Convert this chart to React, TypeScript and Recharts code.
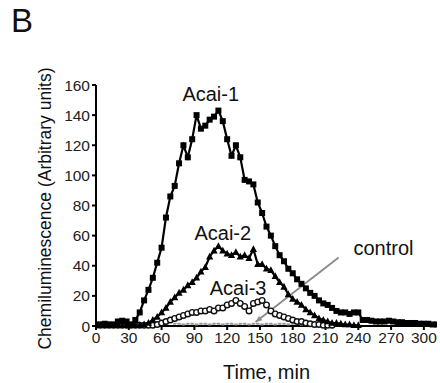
import React from "react";
import {
  LineChart,
  Line,
  XAxis,
  YAxis,
  ReferenceDot,
  ReferenceLine,
} from "recharts";

// sampling times (min)
const times = [
  0, 4, 8, 12, 16, 20, 24, 28, 32, 36, 40, 44, 48, 52, 56, 60, 64, 68, 72, 76,
  80, 84, 88, 92, 96, 100, 104, 108, 112, 116, 120, 124, 128, 132, 136, 140,
  144, 148, 152, 156, 160, 164, 168, 172, 176, 180, 184, 188, 192, 196, 200,
  204, 208, 212, 216, 220, 224, 228, 232, 236, 240, 244, 248, 252, 256, 260,
  264, 268, 272, 276, 280, 284, 288, 292, 296, 300, 304, 308, 312,
];

const acai1 = [
  1, 1, 1.5, 1, 1, 3, 3.5, 3, 1, 4, 9, 17, 24, 32, 42, 52, 72, 86, 93, 108,
  120, 112, 124, 140, 131, 133, 137, 139, 143, 136, 124, 113, 120, 112, 97, 96,
  94, 82, 75, 66, 60, 53, 47, 43, 38, 35, 31, 28, 25, 22, 20,
  17, 15, 14, 12, 10, 9, 9, 8, 9, 9, 4, 4, 3.5, 3, 3,
  3, 3.5, 3, 2.5, 2.5, 2, 2, 2, 1.5, 1.5, 1.5, 1, 1,
];

const acai2 = [
  0.5, 0.5, 0.5, 0.5, 0.5, 0.5, 0.5, 0.5, 0.5, 0.5, 0.5, 1, 2, 4, 6, 9, 12, 16, 19, 22,
  24, 27, 29, 32, 36, 39, 46, 50, 53, 50, 48, 47, 49, 46, 47, 45,
  51, 41, 41, 38, 37, 33, 29, 26, 21, 18, 16, 14, 11, 9, 7,
  5, 4, 3, 2, 2, 1.5, 1, 1, 0.5, 0.5, null, null, null, null, null,
  null, null, null, null, null, null, null, null, null, null, null, null, null,
];

const acai3 = [
  0.5, 0.5, 0.5, 0.5, 0.5, 0.5, 0.5, 0.5, 0.5, 0.5, 0.5, 0.5, 0.5, 0.5, 1, 2, 3, 4, 5, 6,
  7, 8, 9, 9, 10, 10, 11, 10, 12, 12, 14, 15, 17, 15, 13, 10,
  15, 16, 17, 14, 10, 8, 7, 6, 5, 4, 3, 3, 2, 1.5, 1,
  1, 0.5, 0.5, 0.5, null, null, null, null, null, null, null, null, null, null, null,
  null, null, null, null, null, null, null, null, null, null, null, null, null,
];

const control = [
  null, null, null, null, null, null, null, null, null, null, null, null, null, null, null, null, null, null, 1.5, 1.5,
  1, 1.5, 1.5, 1, 1.5, 1.5, 1, 1.5, 1.5, 1, 1.5, 1.5, 1, 1.5, 1.5, 1,
  1.5, 1.5, 1, 1.5, 1.5, 1, 1.5, 1.5, 1, 1.5, 1.5, 1, 1.5, 1.5, null,
  null, null, null, null, null, null, null, null, null, null, null, null, null, null, null,
  null, null, null, null, null, null, null, null, null, null, null, null, null,
];

const xTicks = [0, 30, 60, 90, 120, 150, 180, 210, 240, 270, 300];
const yTicks = [0, 20, 40, 60, 80, 100, 120, 140, 160];

const data = times.map((t, i) => ({
  t,
  acai1: acai1[i],
  acai2: acai2[i],
  acai3: acai3[i],
  control: control[i],
}));

const FONT = "'Liberation Sans', Arial, sans-serif";

const SquareDot = (props: any) => {
  const { cx, cy, index } = props;
  if (cx == null || cy == null) return <g key={index} />;
  return <rect key={index} x={cx - 3} y={cy - 3} width={6} height={6} fill="#000" />;
};

const TriangleDot = (props: any) => {
  const { cx, cy, index } = props;
  if (cx == null || cy == null) return <g key={index} />;
  return (
    <polygon
      key={index}
      points={`${cx},${cy - 4} ${cx - 3.6},${cy + 2.8} ${cx + 3.6},${cy + 2.8}`}
      fill="#000"
    />
  );
};

const CircleDot = (props: any) => {
  const { cx, cy, index } = props;
  if (cx == null || cy == null) return <g key={index} />;
  return <circle key={index} cx={cx} cy={cy} r={2.8} fill="#fff" stroke="#111" strokeWidth={1.4} />;
};

const ControlDot = (props: any) => {
  const { cx, cy, index } = props;
  if (cx == null || cy == null) return <g key={index} />;
  return <rect key={index} x={cx - 1.5} y={cy - 1} width={3} height={2} fill="#999" />;
};

const Arrow = (props: any) => {
  const { x1, y1, x2, y2 } = props;
  if (x1 == null) return null;
  const ang = Math.atan2(y2 - y1, x2 - x1);
  const len = 7;
  const ax = x2 - len * Math.cos(ang - 0.4);
  const ay = y2 - len * Math.sin(ang - 0.4);
  const bx = x2 - len * Math.cos(ang + 0.4);
  const by = y2 - len * Math.sin(ang + 0.4);
  return (
    <g>
      <line x1={x1} y1={y1} x2={x2} y2={y2} stroke="#8a8a8a" strokeWidth={1.8} />
      <polygon points={`${x2},${y2} ${ax},${ay} ${bx},${by}`} fill="#8a8a8a" />
    </g>
  );
};

const annoLabel = (value: string) => ({
  value,
  position: "center" as const,
  fill: "#111",
  fontSize: 20,
  fontFamily: FONT,
});

export default function App() {
  return (
    <div style={{ position: "absolute", left: 0, top: 0, width: 440, height: 383, background: "#fff" }}>
      <div
        style={{
          position: "absolute",
          left: 11,
          top: 1,
          fontFamily: FONT,
          fontSize: 33,
          color: "#111",
          lineHeight: "40px",
        }}
      >
        B
      </div>
      <LineChart
        width={440}
        height={383}
        data={data}
        margin={{ top: 85, right: 3, left: 0, bottom: 0 }}
      >
        <XAxis
          dataKey="t"
          type="number"
          domain={[0, 312]}
          ticks={xTicks}
          allowDataOverflow
          height={57}
          stroke="#000"
          strokeWidth={2}
          tickSize={4}
          tickMargin={2}
          tick={{ fill: "#222", fontSize: 15.5, fontFamily: FONT }}
          interval={0}
          label={{
            value: "Time, min",
            position: "insideBottom",
            offset: 4,
            fill: "#111",
            fontSize: 20,
            fontFamily: FONT,
          }}
        />
        <YAxis
          type="number"
          domain={[0, 160]}
          ticks={yTicks}
          width={96}
          stroke="#000"
          strokeWidth={2}
          tickSize={4}
          tickMargin={2}
          tick={{ fill: "#222", fontSize: 15.5, fontFamily: FONT }}
          interval={0}
          label={{
            content: ({ viewBox }: any) => {
              const cx = 45;
              const cy = viewBox.y + viewBox.height / 2 + 3;
              return (
                <text
                  x={cx}
                  y={cy}
                  transform={`rotate(-90 ${cx} ${cy})`}
                  textAnchor="middle"
                  dominantBaseline="central"
                  fill="#111"
                  fontSize={17.5}
                  fontFamily={FONT}
                >
                  Chemiluminescence (Arbitrary units)
                </text>
              );
            },
          }}
        />
        <Line
          dataKey="control"
          stroke="#aaa"
          strokeWidth={0.8}
          dot={ControlDot}
          isAnimationActive={false}
          connectNulls={false}
        />
        <Line
          dataKey="acai3"
          stroke="#111"
          strokeWidth={1.6}
          dot={CircleDot}
          isAnimationActive={false}
        />
        <Line
          dataKey="acai2"
          stroke="#000"
          strokeWidth={2.2}
          dot={TriangleDot}
          isAnimationActive={false}
        />
        <Line
          dataKey="acai1"
          stroke="#000"
          strokeWidth={2.2}
          dot={SquareDot}
          isAnimationActive={false}
        />
        <ReferenceLine
          segment={[
            { x: 222, y: 45.5 },
            { x: 146, y: 2.6 },
          ]}
          shape={Arrow}
          ifOverflow="visible"
        />
        <ReferenceDot x={105} y={154} r={0} fill="none" stroke="none" label={annoLabel("Acai-1")} ifOverflow="visible" />
        <ReferenceDot x={116} y={62} r={0} fill="none" stroke="none" label={annoLabel("Acai-2")} />
        <ReferenceDot x={130} y={25} r={0} fill="none" stroke="none" label={annoLabel("Acai-3")} />
        <ReferenceDot x={263} y={52} r={0} fill="none" stroke="none" label={annoLabel("control")} />
      </LineChart>
    </div>
  );
}
